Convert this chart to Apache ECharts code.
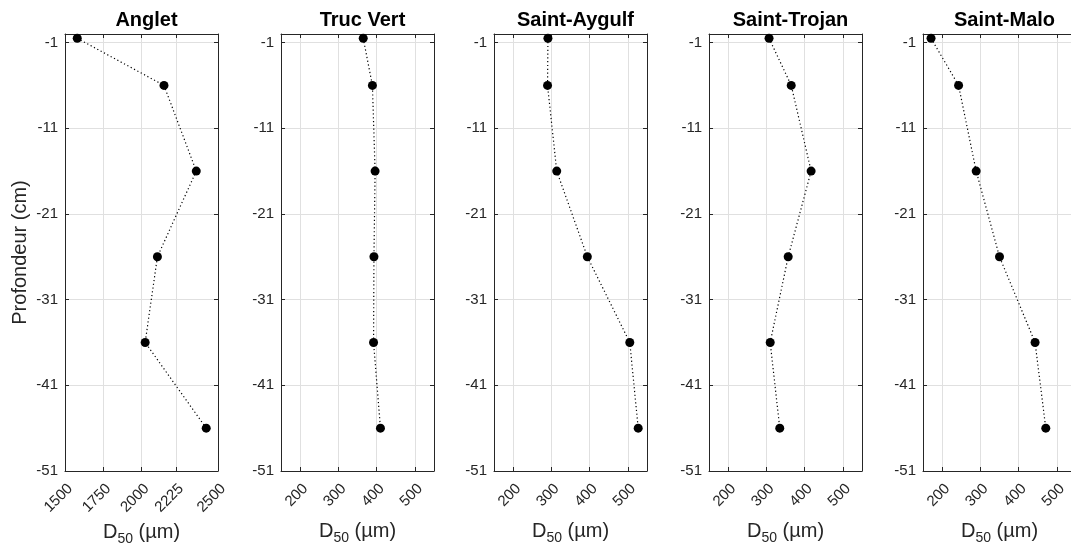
<!DOCTYPE html>
<html>
<head>
<meta charset="utf-8">
<title>D50 profiles</title>
<script src="https://cdn.jsdelivr.net/npm/echarts@6/dist/echarts.min.js"></script>
<style>
  html, body { margin: 0; padding: 0; background: #fff; }
  #main { width: 1071px; height: 545px; }
</style>
</head>
<body>
<div id="main"></div>
<script>
// depth of each sample (cm)
var depths = [-0.5, -6, -16, -26, -36, -46];
var sites = ['Anglet', 'Truc Vert', 'Saint-Aygulf', 'Saint-Trojan', 'Saint-Malo'];

// D50 (µm) per site, top to bottom
var d50Anglet = [1580, 2147, 2358, 2104, 2024, 2423];
var d50TrucVert = [365, 389, 396, 393, 392, 410];
var d50SaintAygulf = [291, 290, 314, 394, 505, 527];
var d50SaintTrojan = [307, 365, 417, 357, 310, 335];
var d50SaintMalo = [171, 243, 289, 350, 443, 471];

// tick labels
var yTicks = [-51, -41, -31, -21, -11, -1];
var xTicksAnglet = [1500, 1750, 2000, 2225, 2500];
var xTicksOther = [200, 300, 400, 500];

var values = [d50Anglet, d50TrucVert, d50SaintAygulf, d50SaintTrojan, d50SaintMalo];
var xTicks = [xTicksAnglet, xTicksOther, xTicksOther, xTicksOther, xTicksOther];
var xRanges = [[1500, 2500], [150, 550], [150, 550], [150, 550], [150, 550]];

var lefts = [65, 281, 494, 709, 923];
var panelW = 153;
var font = '"Liberation Sans", Arial, Helvetica, sans-serif';
var ink = '#262626';

var grids = [], xAxes = [], yAxes = [], series = [], titles = [];

function plain(v) {
    return String(v);
}

for (var i = 0; i < sites.length; i++) {
    // last panel runs past the right edge, like the original figure
    grids.push({left: lefts[i], top: 34, width: panelW, height: 437, containLabel: false, outerBoundsMode: 'none'});

    titles.push({
        text: sites[i],
        left: lefts[i] + panelW / 2,
        top: 5,
        textAlign: 'center',
        textStyle: {fontFamily: font, fontSize: 20, fontWeight: 'bold', color: '#000'}
    });

    // bottom x
    xAxes.push({
        gridIndex: i, type: 'value', position: 'bottom',
        min: xRanges[i][0], max: xRanges[i][1],
        axisLine: {show: true, onZero: false, lineStyle: {color: ink, width: 1}},
        axisTick: {show: true, inside: true, length: 4, customValues: xTicks[i], lineStyle: {color: ink}},
        axisLabel: {
            customValues: xTicks[i], formatter: plain, rotate: 45, margin: 10,
            align: 'right', verticalAlign: 'top',
            fontSize: 15, color: ink, fontFamily: font
        },
        splitLine: {show: true, lineStyle: {color: '#e0e0e0', width: 1}},
        name: '{a|D}{b|50}{a| (µm)}',
        nameLocation: 'middle',
        nameGap: 46,
        nameTextStyle: {
            color: ink, fontFamily: font,
            rich: {
                a: {fontSize: 20, fontFamily: font, color: ink},
                b: {fontSize: 14, fontFamily: font, color: ink, padding: [14, 0, 0, 0]}
            }
        }
    });
    // top x (box + ticks)
    xAxes.push({
        gridIndex: i, type: 'value', position: 'top',
        min: xRanges[i][0], max: xRanges[i][1],
        axisLine: {show: true, onZero: false, lineStyle: {color: ink, width: 1}},
        axisTick: {show: true, inside: true, length: 4, customValues: xTicks[i], lineStyle: {color: ink}},
        axisLabel: {show: false},
        splitLine: {show: false}
    });

    // left y
    yAxes.push({
        gridIndex: i, type: 'value', position: 'left',
        min: -51, max: 0,
        axisLine: {show: true, onZero: false, lineStyle: {color: ink, width: 1}},
        axisTick: {show: true, inside: true, length: 4, customValues: yTicks, lineStyle: {color: ink}},
        axisLabel: {customValues: yTicks, margin: 7, fontSize: 15, color: ink, fontFamily: font},
        splitLine: {show: true, lineStyle: {color: '#e0e0e0', width: 1}},
        name: i === 0 ? 'Profondeur (cm)' : '',
        nameLocation: 'middle',
        nameGap: 35,
        nameTextStyle: {fontSize: 20, color: ink, fontFamily: font}
    });
    // right y (box + ticks)
    yAxes.push({
        gridIndex: i, type: 'value', position: 'right',
        min: -51, max: 0,
        axisLine: {show: true, onZero: false, lineStyle: {color: ink, width: 1}},
        axisTick: {show: true, inside: true, length: 4, customValues: yTicks, lineStyle: {color: ink}},
        axisLabel: {show: false},
        splitLine: {show: false}
    });

    var pts = [];
    for (var k = 0; k < depths.length; k++) {
        pts.push([values[i][k], depths[k]]);
    }
    series.push({
        type: 'line',
        name: sites[i],
        xAxisIndex: i * 2,
        yAxisIndex: i * 2,
        data: pts,
        symbol: 'circle',
        symbolSize: 9,
        itemStyle: {color: '#000'},
        lineStyle: {color: '#000', width: 1.2, type: [1.2, 2.6]},
        clip: false,
        z: 5
    });
}

var myChart = echarts.init(document.getElementById('main'));
myChart.setOption({
    animation: false,
    backgroundColor: '#fff',
    title: titles,
    grid: grids,
    xAxis: xAxes,
    yAxis: yAxes,
    series: series
});
</script>
</body>
</html>
